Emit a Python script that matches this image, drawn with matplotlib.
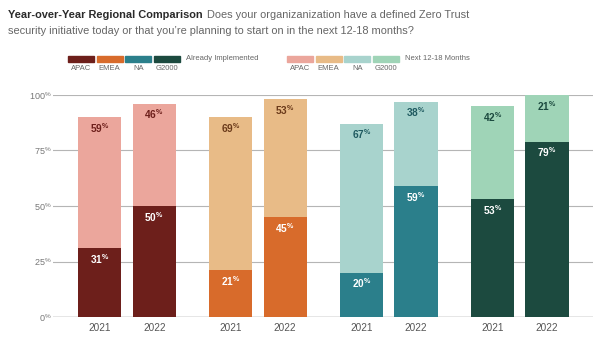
import matplotlib
matplotlib.use("Agg")
import matplotlib.pyplot as plt
from matplotlib.patches import Rectangle
import numpy as np

# ---------------------------------------------------------------------------
# Data
# ---------------------------------------------------------------------------
regions = ["APAC", "EMEA", "NA", "G2000"]
years = ["2021", "2022"]
implemented = [[31, 50], [21, 45], [20, 59], [53, 79]]   # Already implemented
planned = [[59, 46], [69, 53], [67, 38], [42, 21]]       # Next 12-18 months
yticks = [0, 25, 50, 75, 100]

dark_colors = ["#6d1f1b", "#d86b2b", "#2b7f8b", "#1c4a3f"]
light_colors = ["#eba69c", "#e8bb87", "#a8d3cd", "#9fd4b7"]
label_colors = ["#6d1f1b", "#6b3a1a", "#1f5a60", "#1c4a3f"]

# ---------------------------------------------------------------------------
# Figure
# ---------------------------------------------------------------------------
W, H = 600, 352
fig = plt.figure(figsize=(W / 100, H / 100), dpi=100)
plt.rcParams["font.family"] = ["Liberation Sans", "DejaVu Sans"]

ax = fig.add_axes([53 / W, 1 - 317 / H, 540 / W, 222 / H])
ax.set_xlim(-0.565, 3.56)
ax.set_ylim(0, 100)

offset = 0.208
width = 0.33
for g in range(len(regions)):
    for j in range(len(years)):
        x = g + (j - 0.5) * 2 * offset
        imp = implemented[g][j]
        pl = planned[g][j]
        ax.bar(x, imp, width=width, color=dark_colors[g], zorder=3)
        ax.bar(x, pl, width=width, bottom=imp, color=light_colors[g], zorder=3)
        ax.text(x, imp - 4.8, f"{imp}" + r"$^{\mathregular{\%}}$", ha="center",
                va="center", fontsize=7.3, fontweight="bold", color="white", zorder=4)
        ax.text(x, imp + pl - 4.8, f"{pl}" + r"$^{\mathregular{\%}}$", ha="center",
                va="center", fontsize=7.3, fontweight="bold", color=label_colors[g],
                zorder=4)

xpos = [g + (j - 0.5) * 2 * offset for g in range(len(regions)) for j in range(len(years))]
ax.set_xticks(xpos)
ax.set_xticklabels(years * len(regions), fontsize=7.2, color="#555555")
ax.set_yticks(yticks)
ax.set_yticklabels([f"{v}" + r"$^{\mathregular{\%}}$" for v in yticks],
                   fontsize=6.5, color="#777777")
ax.tick_params(axis="both", length=0, pad=4)
ax.tick_params(axis="y", pad=1)
ax.grid(axis="y", color="#b5b5b5", linewidth=0.8, zorder=0)
for s in ax.spines.values():
    s.set_visible(False)
ax.axhline(0, color="#999999", linewidth=1.0, zorder=2)

# ---------------------------------------------------------------------------
# Title
# ---------------------------------------------------------------------------
fig.canvas.draw()
renderer = fig.canvas.get_renderer()
t1 = fig.text(8 / W, 1 - 18 / H, "Year-over-Year Regional Comparison",
              fontsize=7.9, fontweight="bold", color="#2a2a2a")
bb = t1.get_window_extent(renderer)
fig.text((bb.x1 + 4) / W, 1 - 18 / H,
         "Does your organizanization have a defined Zero Trust",
         fontsize=7.9, color="#666666")
fig.text(8 / W, 1 - 34 / H,
         "security initiative today or that you\u2019re planning to start on in the next 12-18 months?",
         fontsize=7.9, color="#666666")

# ---------------------------------------------------------------------------
# Legend
# ---------------------------------------------------------------------------
def legend_row(x0, colors, title):
    step = 28.7
    for i, (c, name) in enumerate(zip(colors, regions)):
        x = x0 + i * step
        fig.patches.append(Rectangle((x / W, 1 - 62 / H), 26 / W, 6 / H,
                                     transform=fig.transFigure, color=c))
        fig.text((x + 13) / W, 1 - 69 / H, name, ha="center", va="center",
                 fontsize=5.5, color="#666666")
    fig.text((x0 + 4 * step + 3) / W, 1 - 58 / H, title, ha="left", va="center",
             fontsize=5.5, color="#666666")


legend_row(68, dark_colors, "Already Implemented")
legend_row(287, light_colors, "Next 12-18 Months")

plt.savefig("out.png", dpi=100)
plt.close()
